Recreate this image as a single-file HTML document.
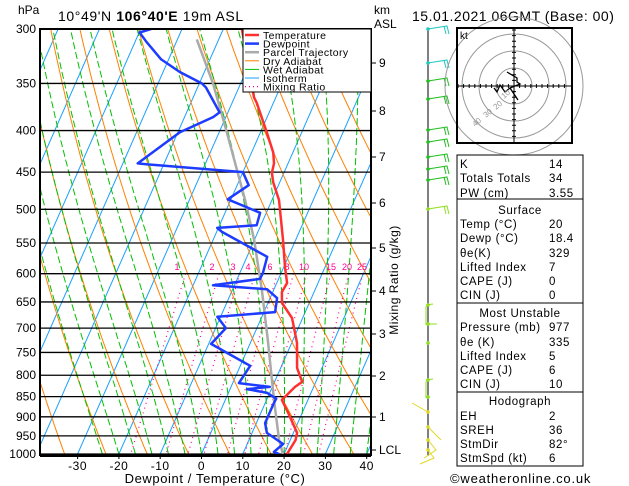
<!DOCTYPE html>
<html><head><meta charset="utf-8">
<style>
body{margin:0;background:#fff;width:629px;height:486px;overflow:hidden}
svg{display:block}
text{font-family:"Liberation Sans",sans-serif;fill:#000}
</style></head>
<body>
<svg id="chart" width="629" height="486" viewBox="0 0 629 486" xmlns="http://www.w3.org/2000/svg">
<defs><clipPath id="plotclip"><rect x="40" y="29" width="331" height="425"/></clipPath></defs>
<rect width="629" height="486" fill="#fff"/>
<g id="bg" clip-path="url(#plotclip)"></g>
<g id="plines"></g>
<g id="series" clip-path="url(#plotclip)"></g>
<g id="axes"></g>
<text x="18" y="14" font-size="12">hPa</text>
<text x="58" y="21" font-size="14" letter-spacing="0.6">10°49'N  <tspan font-weight="bold">106°40'E</tspan> 19m ASL</text>
<text x="374" y="14" font-size="12">km</text>
<text x="374" y="28" font-size="12">ASL</text>
<text x="412" y="21" font-size="14" letter-spacing="0.5">15.01.2021 06GMT (Base: 00)</text>
<text transform="translate(398,280) rotate(-90)" text-anchor="middle" font-size="12" letter-spacing="0.5">Mixing Ratio (g/kg)</text>
<text x="215" y="483" text-anchor="middle" font-size="13" letter-spacing="0.6">Dewpoint / Temperature (°C)</text>
<g id="legend"></g>
<g id="winds"></g>
<g id="hodo"></g>
<g id="table"></g>
<text x="450" y="483" font-size="13" letter-spacing="0.8">©weatheronline.co.uk</text>
</svg>
<script>
// ---- data ----
const tempP=[300,364,370,403,426,439,451,463,487,545,589,616,632,652,680,730,784,815,827,858,890,942,961,1000];
const tempT=[-35.5,-25.3,-24,-18.3,-14.7,-13.4,-12.9,-11.6,-8.3,-3.1,0.3,2.5,2.2,3.4,7.4,11.3,14,16.7,15.5,13.7,16.6,20.9,21.3,20.7];
const dewP=[300,303,311,327,339,350,354,380,385,402,439,440,450,467,486,505,523,527,533,572,599,609,620,627,643,669,678,700,732,751,779,818,827,832,841,855,865,916,942,972,994,1000];
const dewT=[-57.5,-59.9,-57.3,-51.8,-45.9,-39.4,-38,-32,-33.1,-39.5,-46.4,-44.3,-20,-17.2,-20.8,-11.5,-11,-20.3,-18.7,-5.1,-4.4,-4.5,-15.2,-1.7,1.7,2.7,-10.8,-7.5,-9.4,-4.6,2.4,1.5,9.4,4.1,9.4,12.2,12.1,12.1,13.6,18.7,17.3,18.8];
const parcelP=[309,350,399,487,545,629,724,858,961,1000];
const parcelT=[-45.3,-36.7,-28.6,-16.5,-10.1,-2.8,3.9,11.8,17.3,19.7];
const pressureTicks=[300,350,400,450,500,550,600,650,700,750,800,850,900,950,1000];
const tempTicks=[-30,-20,-10,0,10,20,30,40];
const kmTicks=[["9",63],["8",111],["7",157],["6",203],["5",248],["4",291],["3",334],["2",376],["1",417],["LCL",450]];
const mixRatios=[1,2,3,4,6,8,10,15,20,25];
const mixLabelX=[177,212,233,248,270,287,304,331,347,362];

const NS="http://www.w3.org/2000/svg";
function yP(p){return 29+Math.log(p/300)/Math.log(1000/300)*425;}
function xT(t,p){return 201.5+4.13*t+0.44*(454-yP(p));}
function mk(tag,attrs,parent){const e=document.createElementNS(NS,tag);for(const k in attrs)e.setAttribute(k,attrs[k]);parent.appendChild(e);return e;}
function pathFrom(ps,ts){return ps.map((p,i)=>(i?'L':'M')+xT(ts[i],p).toFixed(1)+','+yP(p).toFixed(1)).join('');}
const bg=document.getElementById('bg');
// isotherms
for(let t=-120;t<=40;t+=10){const e=mk('line',{x1:xT(t,1000),y1:yP(1000),x2:xT(t,300),y2:yP(300),stroke:'#1aa0ff','stroke-width':1},bg);

}
// dry adiabats
for(let th=230;th<=480;th+=10){const ps=[],ts=[];for(let p=300;p<=1000;p+=10){ps.push(p);ts.push(th*Math.pow(p/1000,0.286)-273.15);}
const e=mk('path',{d:pathFrom(ps,ts),stroke:'#ff8000',fill:'none','stroke-width':1},bg);

}
// wet adiabats
function es(tc){return 6.112*Math.exp(17.67*tc/(tc+243.5));}
for(let tw=-24;tw<=40;tw+=4){let T=tw+273.15;const ps=[1000],ts=[tw];
for(let p=1000;p>300;p-=2){const tc=T-273.15;const e=es(tc);const rs=0.622*e/(p-e);
const dT=(287*T+2.5e6*rs)/(p*(1004+2.5e6*2.5e6*rs*0.622/(287*T*T)));T-=dT*2;ps.push(p-2);ts.push(T-273.15);}
const e=mk('path',{d:pathFrom(ps,ts),stroke:'#00c000',fill:'none','stroke-width':1,'stroke-dasharray':'7,3'},bg);

}
// mixing ratio
mixRatios.forEach((w,i)=>{const ps=[],ts=[];for(let p=600;p<=1000;p+=10){const e=p*(w/1000)/(0.622+w/1000);const l=Math.log(e/6.112);ps.push(p);ts.push(243.5*l/(17.67-l));}
const e=mk('path',{d:pathFrom(ps,ts),stroke:'#ff0090',fill:'none','stroke-width':1.2,'stroke-dasharray':'1,4'},bg);


const t=mk('text',{x:mixLabelX[i],y:270,'font-size':9,'text-anchor':'middle',style:'fill:#ff0090'},bg);t.textContent=w;

});
// pressure lines + labels
const pl=document.getElementById('plines'),ax=document.getElementById('axes');
pressureTicks.forEach(p=>{const e=mk('line',{x1:40,x2:371,y1:yP(p),y2:yP(p),stroke:'#000','stroke-width':1.3},pl);


const t=mk('text',{x:36,y:yP(p)+4,'text-anchor':'end','font-size':12},ax);t.textContent=p;

});
// series
const sg=document.getElementById('series');
let e=mk('path',{d:pathFrom(parcelP,parcelT),stroke:'#aaaaaa',fill:'none','stroke-width':2.5},sg);


e=mk('path',{d:pathFrom(dewP,dewT),stroke:'#1e3cff',fill:'none','stroke-width':2.5,'stroke-linejoin':'round'},sg);


e=mk('path',{d:pathFrom(tempP,tempT),stroke:'#ff3030',fill:'none','stroke-width':2.5,'stroke-linejoin':'round'},sg);


// frame
e=mk('rect',{x:40,y:29,width:331,height:426,fill:'none',stroke:'#000','stroke-width':2},ax);


e=mk('line',{x1:40,x2:371,y1:456,y2:456,stroke:'#000','stroke-width':2},ax);


tempTicks.forEach(t=>{const x=201.5+4.13*t;const l=mk('line',{x1:x,x2:x,y1:454,y2:459,stroke:'#000'},ax);


const tx=mk('text',{x:x,y:470,'text-anchor':'middle','font-size':12,'letter-spacing':0.5},ax);tx.textContent=t;

});
kmTicks.forEach(k=>{const l=mk('line',{x1:371,x2:376,y1:k[1],y2:k[1],stroke:'#000'},ax);


const tx=mk('text',{x:379,y:k[1]+4,'font-size':12},ax);tx.textContent=k[0];

});
// legend
const lg=document.getElementById('legend');
e=mk('rect',{x:243,y:29,width:128,height:63,fill:'#fff',stroke:'#000','stroke-width':1},lg);


const legItems=[['Temperature','#ff3030',2.5,''],['Dewpoint','#1e3cff',2.5,''],['Parcel Trajectory','#aaaaaa',2.5,''],['Dry Adiabat','#ff8000',1,''],['Wet Adiabat','#00c000',1,''],['Isotherm','#1aa0ff',1,''],['Mixing Ratio','#ff0090',1.2,'1,3']];
legItems.forEach((it,i)=>{const y=35+i*8.6;const l=mk('line',{x1:245,x2:259,y1:y,y2:y,stroke:it[1],'stroke-width':it[2],'stroke-dasharray':it[3]},lg);


const t=mk('text',{x:263,y:y+4,'font-size':10.5,'letter-spacing':0.4},lg);t.textContent=it[0];

});
// winds
const wg=document.getElementById('winds');
e=mk('line',{x1:428,x2:428,y1:28,y2:456,stroke:'#000','stroke-width':1},wg);


const barbs=[[29,'#20c8c0'],[63,'#20c8c0'],[81,'#20c020'],[99,'#20c020'],[130,'#20c020'],[142,'#20c020'],[157,'#20c020'],[169,'#20c020'],[180,'#20c020'],[209,'#90e020']];
barbs.forEach(b=>{const p=mk('path',{d:`M428,${b[0]}L447,${b[0]-3}L449,${b[0]+5}M444,${b[0]-3}L446,${b[0]+5}`,stroke:b[1],fill:'none','stroke-width':1},wg);


const c=mk('circle',{cx:428,cy:b[0],r:1.8,fill:b[1]},wg);

});
const lowbarbs=[[305,'M428,305L426,307L426,325M426,305L433,304'],[324,'M428,324L437,324'],[343,''],[380,'M428,380L426,382L426,398M426,380L433,379'],[397,''],[412,'M428,412L412,403'],[427,'M428,427L441,440'],[440,'M428,440L436,450L424,458'],[450,'M428,450L434,458L420,464']];
lowbarbs.forEach(b=>{const col=b[0]>=400?'#e0d820':'#90e020';if(b[1]){const p=mk('path',{d:b[1],stroke:col,fill:'none','stroke-width':1},wg);

}
const c=mk('circle',{cx:428,cy:b[0],r:1.8,fill:col},wg);

});
// hodograph
const hg=document.getElementById('hodo');
e=mk('rect',{x:457,y:28,width:115,height:115,fill:'#fff',stroke:'#000','stroke-width':2},hg);


[18,35,52,69].forEach(r=>{const c=mk('circle',{cx:514,cy:86,r:r,fill:'none',stroke:'#999','stroke-width':1},hg);

});
e=mk('rect',{x:457,y:28,width:115,height:115,fill:'none',stroke:'#000','stroke-width':2},hg);


let d='M458,86L571,86M514,29L514,142';for(let i=-56;i<=56;i+=5.6){if(Math.abs(i)<1)continue;d+=`M${514+i},84L${514+i},88M512,${86+i}L516,${86+i}`;}
e=mk('path',{d:d,stroke:'#000','stroke-width':1,fill:'none'},hg);


e=mk('path',{d:'M507,72L517,78L517,82L520,84L510,88L505,92L500,85L497,92L494,88M510,88L518,100',stroke:'#000','stroke-width':1.3,fill:'none'},hg);


[[10,504,99],[20,496,110],[30,486,118],[40,475,127]].forEach(l=>{const t=mk('text',{x:l[1],y:l[2],'font-size':8,style:'fill:#999',transform:`rotate(-40 ${l[1]} ${l[2]})`},hg);t.textContent=l[0];

});
const kt=mk('text',{x:460,y:39,'font-size':10},hg);kt.textContent='kt';


// table
const tg=document.getElementById('table');
const boxes=[[155,199],[199,303],[303,392],[392,466]];
boxes.forEach(b=>{const r=mk('rect',{x:457,y:b[0],width:126,height:b[1]-b[0],fill:'none',stroke:'#000','stroke-width':1},tg);

});
const rows=[[168,'K','14'],[182,'Totals Totals','34'],[197,'PW (cm)','3.55'],[214,'Surface',null],[228,'Temp (°C)','20'],[242,'Dewp (°C)','18.4'],[257,'θe(K)','329'],[271,'Lifted Index','7'],[285,'CAPE (J)','0'],[299,'CIN (J)','0'],[317,'Most Unstable',null],[331,'Pressure (mb)','977'],[346,'θe (K)','335'],[360,'Lifted Index','5'],[374,'CAPE (J)','6'],[388,'CIN (J)','10'],[405,'Hodograph',null],[420,'EH','2'],[434,'SREH','36'],[448,'StmDir','82°'],[462,'StmSpd (kt)','6']];
rows.forEach(r=>{if(r[2]===null){const t=mk('text',{x:520,y:r[0],'text-anchor':'middle','font-size':11.5,'letter-spacing':0.6},tg);t.textContent=r[1];

}
else{const t=mk('text',{x:460,y:r[0],'font-size':11.5,'letter-spacing':0.6},tg);t.textContent=r[1];


const v=mk('text',{x:549,y:r[0],'font-size':11.5,'letter-spacing':0.6},tg);v.textContent=r[2];

}});
</script>
</body></html>
